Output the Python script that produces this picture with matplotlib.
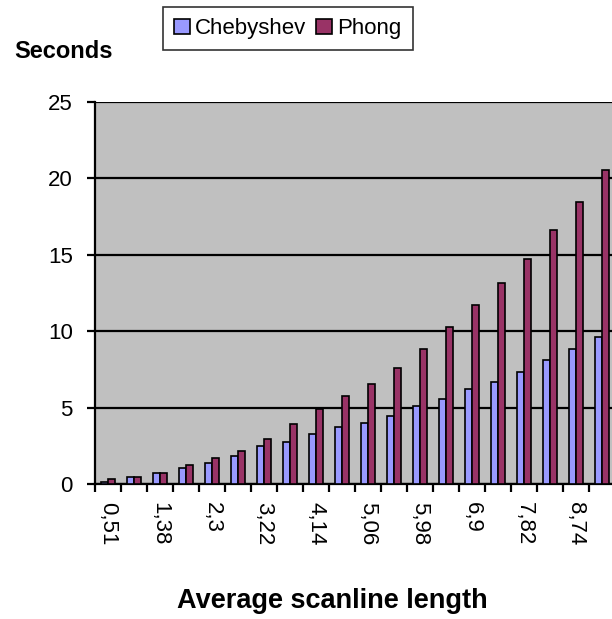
import numpy as np
import matplotlib
matplotlib.use("Agg")
import matplotlib.pyplot as plt

# scanline length categories (only every other one is labelled in the chart)
shown_labels = ["0,51", "1,38", "2,3", "3,22", "4,14", "5,06", "5,98", "6,9", "7,82", "8,74"]
chebyshev = [0.15, 0.43, 0.75, 1.05, 1.38, 1.86, 2.48, 2.78, 3.24, 3.7,
             3.99, 4.46, 5.1, 5.57, 6.2, 6.69, 7.32, 8.1, 8.86, 9.65]
phong = [0.3, 0.43, 0.75, 1.23, 1.68, 2.16, 2.94, 3.9, 4.9, 5.75,
         6.53, 7.62, 8.86, 10.3, 11.72, 13.14, 14.75, 16.6, 18.47, 20.52]

plt.rcParams['font.family'] = ['Liberation Sans', 'DejaVu Sans']

fig = plt.figure(figsize=(6.12, 6.19), dpi=100)
ax = fig.add_axes([95/612, 1-484/619, 520/612, (484-102)/619])

n = len(chebyshev)
x = np.arange(n)
w = 1/3.5
ax.bar(x - w/2, chebyshev, w, color='#9999FF', edgecolor='black', linewidth=1.2, label='Chebyshev', zorder=3)
ax.bar(x + w/2, phong, w, color='#993366', edgecolor='black', linewidth=1.2, label='Phong', zorder=3)

ax.set_facecolor('#C0C0C0')
ax.set_xlim(-0.5, n - 0.5)
ax.set_ylim(0, 25)
ax.set_yticks([0, 5, 10, 15, 20, 25])
ax.yaxis.grid(True, color='black', linewidth=1.6, zorder=1)
ax.set_axisbelow(True)

for s in ['top', 'right']:
    ax.spines[s].set_visible(False)
for s in ['left', 'bottom']:
    ax.spines[s].set_linewidth(1.6)
    ax.spines[s].set_color('black')

ax.set_xticks(np.arange(n + 1) - 0.5)
ax.set_xticklabels([])
ax.set_xticks(x[::2], labels=shown_labels, minor=True)
ax.tick_params(axis='x', which='major', direction='out', length=6, width=1.6)
ax.tick_params(axis='x', which='minor', length=0, pad=13, labelsize=16, labelrotation=-90)
ax.tick_params(axis='y', direction='out', length=6, width=1.6, pad=10, labelsize=16)
for t in ax.get_xticklabels(minor=True):
    t.set_va('top')
    t.set_ha('center')

fig.text(14/612, 1-52/619, "Seconds", fontsize=17, fontweight='bold', va='center', ha='left')
fig.text(332/612, 1-601/619, "Average scanline length", fontsize=19.5, fontweight='bold', va='center', ha='center')

leg = fig.legend(loc='upper left', bbox_to_anchor=(163/612, 1-7/619), ncol=2, fontsize=16,
                 frameon=True, fancybox=False, edgecolor='black', handlelength=0.7, handleheight=0.7,
                 handletextpad=0.25, columnspacing=0.45, borderpad=0.5, borderaxespad=0)
leg.get_frame().set_linewidth(1.2)

fig.savefig('out.png', dpi=100)
